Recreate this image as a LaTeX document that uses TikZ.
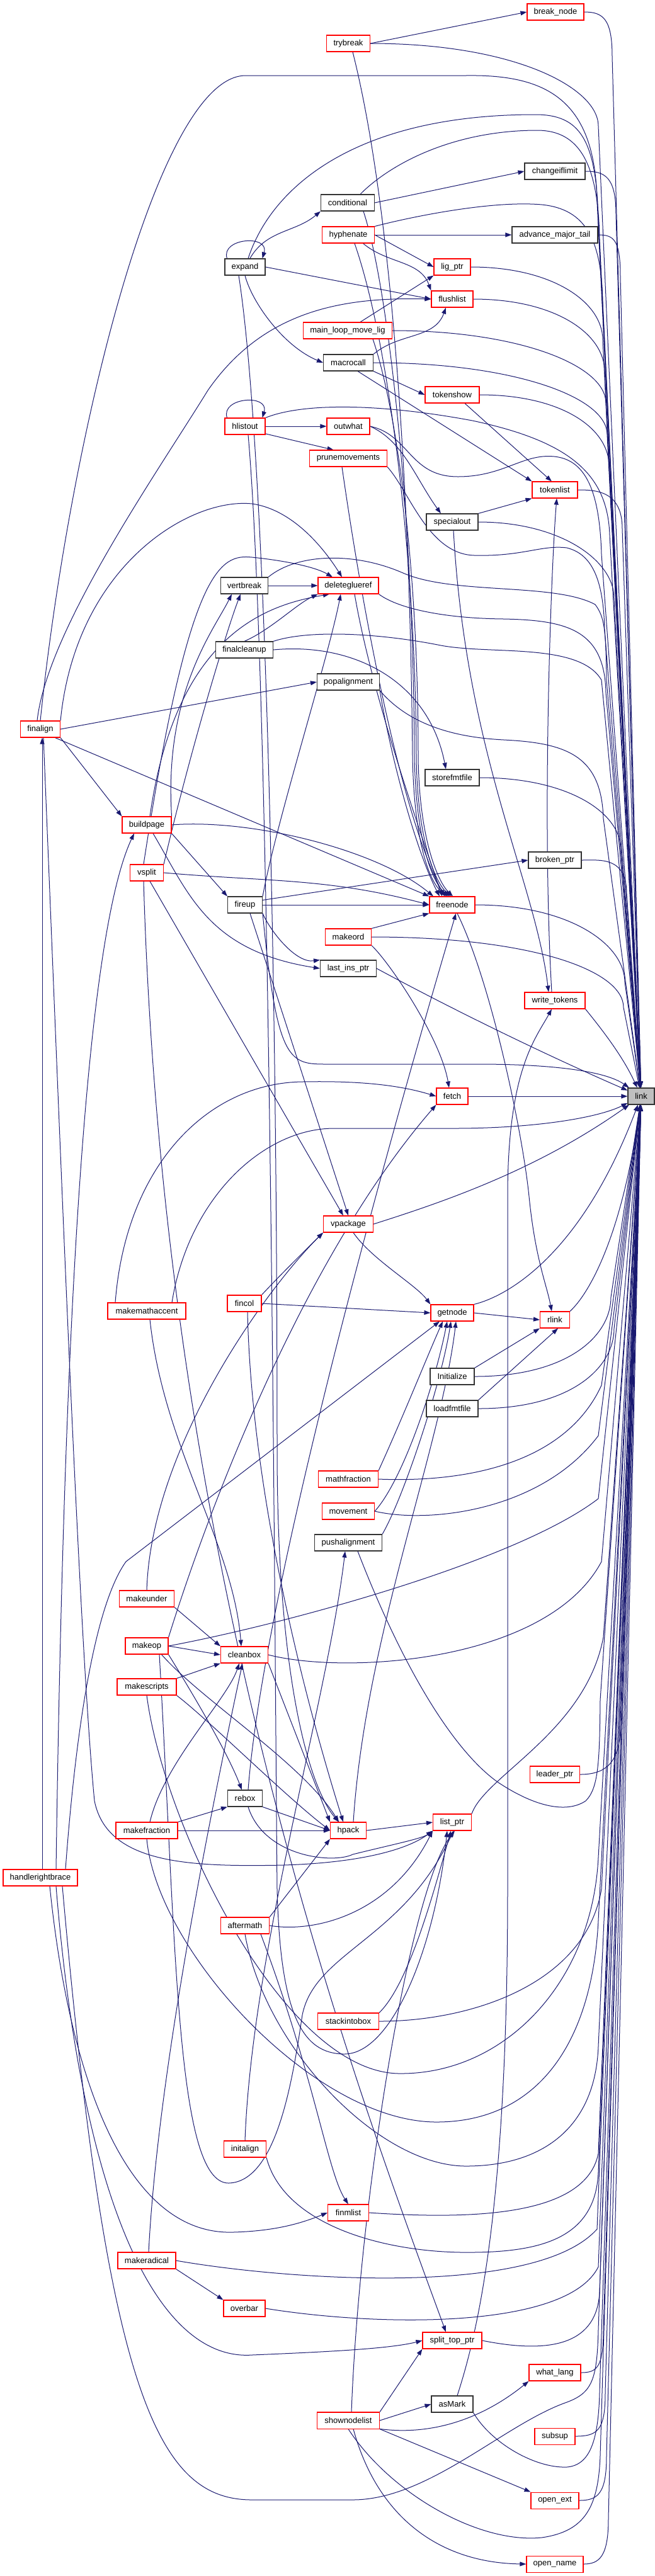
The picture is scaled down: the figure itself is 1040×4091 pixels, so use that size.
\documentclass[tikz,border=0pt]{standalone}
\usepackage{fontspec}
\setmainfont{Liberation Sans}
\usetikzlibrary{arrows.meta,calc}
\definecolor{edgec}{RGB}{25,25,112}
\definecolor{rootfill}{RGB}{191,191,191}
\pgfdeclarelayer{bg}
\pgfsetlayers{bg,main}
\tikzset{
 boxbase/.style={draw, line width=1.1pt, fill=white, minimum height=26pt, inner xsep=3pt, inner ysep=0pt, font=\fontsize{13}{15}\selectfont},
 redbox/.style={boxbase, draw=red},
 blkbox/.style={boxbase, draw=black!80},
 rootbox/.style={boxbase, draw=black!80, fill=rootfill},
 arr/.style={draw=edgec, line width=1pt, -{Triangle[length=10pt,width=7pt]}},
}
\newcommand\La[4]{\draw[arr] (#1.east) .. controls +(#4,0) and +(0,60) .. (#3,-#2) -- (link);}
\newcommand\Lb[4]{\draw[arr] (#1.east) .. controls +(#4,0) and +(0,-60) .. (#3,-#2) -- (link);}
\begin{document}
\begin{tikzpicture}[x=1pt,y=1pt]
\useasboundingbox (0,0) rectangle (1040,-4091);
% nodes
\node[redbox,minimum width=90pt] (bn) at (882,-19) {break\_node};
\node[redbox,minimum width=69pt] (tb) at (553,-69) {trybreak};
\node[blkbox,minimum width=96pt] (cil) at (881,-272) {changeiflimit};
\node[blkbox,minimum width=85pt] (cond) at (552,-322) {conditional};
\node[redbox,minimum width=83pt] (hyph) at (553,-373) {hyphenate};
\node[blkbox,minimum width=136pt] (amt) at (881,-373) {advance\_major\_tail};
\node[blkbox,minimum width=64pt] (exp) at (389,-424) {expand};
\node[redbox,minimum width=58pt] (lig) at (718,-424) {lig\_ptr};
\node[redbox,minimum width=66pt] (fl) at (718,-475) {flushlist};
\node[redbox,minimum width=141pt] (mlml) at (552,-525) {main\_loop\_move\_lig};
\node[blkbox,minimum width=79pt] (mc) at (553,-576) {macrocall};
\node[redbox,minimum width=86pt] (ts) at (718,-627) {tokenshow};
\node[redbox,minimum width=64pt] (hl) at (389,-677) {hlistout};
\node[redbox,minimum width=68pt] (ow) at (553,-677) {outwhat};
\node[redbox,minimum width=123pt] (pm) at (553,-728) {prunemovements};
\node[redbox,minimum width=72pt] (tl) at (881,-778) {tokenlist};
\node[blkbox,minimum width=82pt] (so) at (718,-829) {specialout};
\node[blkbox,minimum width=75pt] (vb) at (388,-930) {vertbreak};
\node[redbox,minimum width=96pt] (dg) at (553,-930) {deleteglueref};
\node[blkbox,minimum width=91pt] (fc) at (388,-1032) {finalcleanup};
\node[blkbox,minimum width=99pt] (pa) at (553,-1083) {popalignment};
\node[redbox,minimum width=63pt] (fa) at (64,-1158) {finalign};
\node[blkbox,minimum width=86pt] (sf) at (718,-1235) {storefmtfile};
\node[redbox,minimum width=78pt] (bp) at (233,-1310) {buildpage};
\node[blkbox,minimum width=84pt] (brp) at (881,-1366) {broken\_ptr};
\node[redbox,minimum width=53pt] (vs) at (233,-1386) {vsplit};
\node[blkbox,minimum width=55pt] (fu) at (389,-1437) {fireup};
\node[redbox,minimum width=72pt] (fn) at (718,-1437) {freenode};
\node[redbox,minimum width=73pt] (mo) at (553,-1488) {makeord};
\node[blkbox,minimum width=89pt] (lip) at (553,-1538) {last\_ins\_ptr};
\node[redbox,minimum width=96pt] (wt) at (881,-1589) {write\_tokens};
\node[redbox,minimum width=50pt] (fe) at (718,-1741) {fetch};
\node[rootbox,minimum width=42pt] (link) at (1018,-1741) {link};
\node[redbox,minimum width=79pt] (vp) at (553,-1944) {vpackage};
\node[redbox,minimum width=54pt] (fcol) at (388,-2070) {fincol};
\node[redbox,minimum width=124pt] (mma) at (233,-2082) {makemathaccent};
\node[redbox,minimum width=68pt] (gn) at (718,-2085) {getnode};
\node[redbox,minimum width=47pt] (rl) at (881,-2096) {rlink};
\node[blkbox,minimum width=70pt] (ini) at (718,-2186) {Initialize};
\node[blkbox,minimum width=82pt] (lf) at (718,-2237) {loadfmtfile};
\node[redbox,minimum width=95pt] (mf) at (553,-2349) {mathfraction};
\node[redbox,minimum width=83pt] (mv) at (553,-2400) {movement};
\node[blkbox,minimum width=107pt] (psa) at (553,-2450) {pushalignment};
\node[redbox,minimum width=87pt] (mu) at (233,-2539) {makeunder};
\node[redbox,minimum width=68pt] (mop) at (233,-2614) {makeop};
\node[redbox,minimum width=75pt] (cb) at (388,-2628) {cleanbox};
\node[redbox,minimum width=94pt] (ms) at (233,-2679) {makescripts};
\node[blkbox,minimum width=55pt] (rb) at (389,-2856) {rebox};
\node[redbox,minimum width=79pt] (lp) at (881,-2818) {leader\_ptr};
\node[redbox,minimum width=61pt] (lsp) at (718,-2894) {list\_ptr};
\node[redbox,minimum width=98pt] (mfr) at (233,-2907) {makefraction};
\node[redbox,minimum width=57pt] (hp) at (553,-2907) {hpack};
\node[redbox,minimum width=118pt] (hrb) at (64,-2982) {handlerightbrace};
\node[redbox,minimum width=77pt] (am) at (389,-3058) {aftermath};
\node[redbox,minimum width=97pt] (sib) at (553,-3210) {stackintobox};
\node[redbox,minimum width=67pt] (ia) at (389,-3413) {initalign};
\node[redbox,minimum width=65pt] (fml) at (553,-3514) {finmlist};
\node[redbox,minimum width=92pt] (mr) at (233,-3590) {makeradical};
\node[redbox,minimum width=66pt] (ob) at (388,-3666) {overbar};
\node[redbox,minimum width=94pt] (stp) at (718,-3717) {split\_top\_ptr};
\node[redbox,minimum width=82pt] (wl) at (881,-3768) {what\_lang};
\node[blkbox,minimum width=66pt] (asm) at (718,-3818) {asMark};
\node[redbox,minimum width=99pt] (snl) at (553,-3844) {shownodelist};
\node[redbox,minimum width=64pt] (ss) at (881,-3869) {subsup};
\node[redbox,minimum width=76pt] (oe) at (881,-3971) {open\_ext};
\node[redbox,minimum width=90pt] (on) at (881,-4072) {open\_name};

\begin{pgfonlayer}{bg}
\fill[white] (0,0) rectangle (1040,-4091);
% ---------- edges into link from above ----------
\La{bn}{90}{972}{30}
\La{tb}{200}{950}{230}
\La{cil}{340}{978}{30}
\draw[arr] ([xshift=20pt]cond.north) .. controls (620,-260) and (720,-207) .. (853,-207) .. controls (920,-207) and (950,-260) .. (952,-380) -- (link);
\draw[arr] (hyph.north east) .. controls (650,-345) and (780,-318) .. (860,-325) .. controls (930,-332) and (955,-380) .. (957,-480) -- (link);
\La{amt}{440}{985}{25}
\draw[arr] ([xshift=5pt]exp.north) .. controls (430,-300) and (560,-182) .. (850,-182) .. controls (920,-182) and (947,-220) .. (950,-350) -- (link);
\draw[arr] (fa.north) .. controls (110,-700) and (250,-120) .. (390,-120) -- (740,-120) .. controls (870,-118) and (945,-160) .. (948,-320) -- (link);
\La{lig}{540}{957}{130}
\La{fl}{590}{960}{130}
\La{mlml}{640}{962}{200}
\La{mc}{690}{964}{220}
\La{ts}{740}{967}{130}
\draw[arr] (hl.north east) .. controls (480,-640) and (600,-640) .. (750,-668) .. controls (900,-700) and (965,-750) .. (968,-850) -- (link);
\draw[arr] (ow.east) .. controls (650,-690) and (650,-757) .. (727,-757) .. controls (800,-757) and (830,-720) .. (880,-725) .. controls (930,-730) and (952,-780) .. (955,-880) -- (link);
\draw[arr] (pm.south east) .. controls (650,-780) and (680,-880) .. (753,-882) .. controls (830,-884) and (860,-865) .. (900,-870) .. controls (940,-880) and (958,-920) .. (960,-1000) -- (link);
\La{tl}{840}{988}{30}
\La{so}{950}{975}{130}
\draw[arr] (vb.north east) .. controls (470,-880) and (560,-875) .. (640,-910) .. controls (720,-945) and (880,-925) .. (945,-960) .. controls (960,-980) and (962,-1000) .. (963,-1080) -- (link);
\draw[arr] (dg.south east) .. controls (630,-965) and (700,-982) .. (800,-983) .. controls (900,-985) and (960,-1000) .. (962,-1100) -- (link);
\draw[arr] (fc.north east) .. controls (490,-1000) and (600,-1005) .. (700,-1025) .. controls (780,-1040) and (920,-1020) .. (955,-1080) -- (link);
\draw[arr] (pa.south east) .. controls (640,-1140) and (700,-1170) .. (800,-1175) .. controls (900,-1180) and (955,-1200) .. (958,-1300) -- (link);
\La{sf}{1350}{986}{140}
\La{brp}{1420}{995}{30}
\La{fn}{1560}{992}{150}
\La{mo}{1600}{990}{250}
\draw[arr] (lip.east) .. controls (750,-1620) and (900,-1690) .. (link);
\draw[arr] (wt.south east) .. controls (960,-1640) and (990,-1680) .. (link);
\draw[arr] (fe) -- (link);
\draw[arr] (fu.south east) .. controls (440,-1690) and (460,-1690) .. (520,-1690) -- (760,-1690) .. controls (870,-1690) and (960,-1700) .. (link);
\draw[arr] ([xshift=40pt]mma.north) .. controls (300,-1900) and (420,-1792) .. (530,-1792) -- (720,-1792) .. controls (850,-1792) and (950,-1775) .. (link);
% ---------- edges into link from below ----------
\draw[arr] (vp.east) .. controls (700,-1910) and (850,-1860) .. (link);
\draw[arr] (gn.north east) .. controls (800,-2060) and (920,-2000) .. (link);
\draw[arr] (rl.north east) .. controls (940,-2050) and (990,-1950) .. (link);
\Lb{ini}{2060}{970}{150}
\Lb{lf}{2110}{975}{150}
\draw[arr] (mf.east) .. controls (750,-2355) and (900,-2320) .. (955,-2200) -- (link);
\draw[arr] (mv.east) .. controls (680,-2420) and (860,-2400) .. (950,-2280) -- (link);
\draw[arr] (mop.east) .. controls (450,-2580) and (820,-2480) .. (950,-2380) -- (link);
\draw[arr] (cb.east) .. controls (550,-2660) and (870,-2640) .. (955,-2480) -- (link);
\draw[arr] ([xshift=15pt]psa.south) .. controls (640,-2650) and (720,-2780) .. (790,-2830) .. controls (850,-2870) and (900,-2880) .. (930,-2860) .. controls (950,-2840) and (952,-2800) .. (953,-2700) -- (link);
\Lb{lp}{2740}{985}{40}
\draw[arr] (lsp.north east) .. controls (770,-2820) and (930,-2750) .. (958,-2600) -- (link);
\draw[arr] (ms.south) .. controls (260,-2900) and (450,-3290) .. (633,-3293) .. controls (800,-3295) and (940,-3150) .. (950,-2950) -- (link);
\draw[arr] (am.south) .. controls (420,-3250) and (600,-3440) .. (740,-3440) .. controls (860,-3440) and (945,-3380) .. (950,-3250) -- (link);
\draw[arr] (sib.east) .. controls (750,-3210) and (930,-3150) .. (955,-3000) -- (link);
\draw[arr] (ia.south east) .. controls (450,-3530) and (600,-3575) .. (733,-3577) .. controls (850,-3578) and (945,-3560) .. (950,-3450) -- (link);
\draw[arr] (fml.east) .. controls (750,-3525) and (930,-3520) .. (950,-3420) -- (link);
\draw[arr] (mr.east) .. controls (450,-3620) and (850,-3650) .. (948,-3540) -- (link);
\draw[arr] (ob.east) .. controls (600,-3695) and (900,-3700) .. (950,-3600) -- (link);
\draw[arr] (stp.east) .. controls (880,-3740) and (948,-3720) .. (952,-3640) -- (link);
\Lb{wl}{3700}{958}{25}
\Lb{ss}{3800}{961}{35}
\Lb{oe}{3900}{963}{30}
\Lb{on}{4000}{966}{25}
\draw[arr] (asm.south east) .. controls (780,-3880) and (850,-3920) .. (900,-3918) .. controls (935,-3915) and (950,-3880) .. (952,-3800) -- (link);
\draw[arr] (snl.south) .. controls (620,-3960) and (760,-4040) .. (860,-4030) .. controls (930,-4020) and (950,-3980) .. (953,-3900) -- (link);
\draw[arr] ([xshift=35pt]hrb.south) .. controls (170,-3800) and (250,-3970) .. (400,-3970) -- (560,-3970) .. controls (680,-3970) and (800,-3850) .. (900,-3815) .. controls (940,-3800) and (948,-3780) .. (950,-3700) -- (link);
\draw[arr] (mfr.south) .. controls (250,-3100) and (500,-3370) .. (693,-3370) .. controls (850,-3370) and (940,-3250) .. (950,-3050) -- (link);
% ---------- other edges ----------
\draw[arr] (tb.east) -- (bn.west);
\draw[arr] (cond.east) -- (cil.west);
\draw[arr] (exp.60) to[out=60,in=220] (cond.south west);
\draw[arr] ([xshift=4pt]exp.north west) .. controls (350,-378) and (428,-372) .. ([xshift=-5pt]exp.north east);
\draw[arr] ([xshift=4pt]hl.north west) .. controls (350,-631) and (428,-625) .. ([xshift=-5pt]hl.north east);
\draw[arr] (hyph.east) -- (amt.west);
\draw[arr] (hyph.east) -- (lig.west);
\draw[arr] (hyph.-30) to[out=-40,in=110] (fl.north west);
\draw[arr] (exp.east) -- (fl.west);
\draw[arr] (exp.south) .. controls (400,-480) and (450,-550) .. (mc.west);
\draw[arr] ([xshift=-10pt]exp.south) .. controls (420,-700) and (440,-1500) .. (440,-2300) .. controls (440,-2700) and (500,-2850) .. ([xshift=-15pt]hp.north);
\draw[arr] ([xshift=20pt]mlml.north) -- (lig.south west);
\draw[arr] (mc.north east) to[out=40,in=-110] ([xshift=-10pt]fl.south);
\draw[arr] (mc.south east) -- (ts.west);
\draw[arr] ([xshift=15pt]mc.south) -- (tl.north west);
\draw[arr] ([xshift=20pt]ts.south) -- ([xshift=-5pt]tl.north);
\draw[arr] (hl.east) -- (ow.west);
\draw[arr] (hl.-20) -- (pm.150);
\draw[arr] ([xshift=5pt]hl.south) .. controls (430,-1100) and (436,-2600) .. (440,-3000) .. controls (445,-3200) and (480,-3262) .. (547,-3262) .. controls (620,-3262) and (690,-3100) .. ([xshift=-8pt]lsp.south);
\draw[arr] (ow.east) .. controls (640,-700) and (660,-760) .. ([xshift=-18pt]so.north);
\draw[arr] (so.north east) -- (tl.south west);
\draw[arr] ([xshift=2pt]so.south) .. controls (740,-1200) and (850,-1400) .. ([xshift=-10pt]wt.north);
\draw[arr] ([xshift=-5pt]wt.north) .. controls (860,-1300) and (875,-900) .. ([xshift=3pt]tl.south);
\draw[arr] ([xshift=8pt]asm.north) .. controls (760,-3700) and (806,-3500) .. (806,-3000) -- (806,-1900) .. controls (806,-1700) and (850,-1650) .. ([xshift=-5pt]wt.south);
\draw[arr] ([xshift=7pt]tb.south) .. controls (615,-300) and (650,-700) .. (655,-1200) .. controls (657,-1330) and (680,-1400) .. ([xshift=-8pt]fn.north);
\draw[arr] ([xshift=25pt]cond.south) .. controls (615,-450) and (656,-800) .. (658,-1200) .. controls (660,-1330) and (685,-1400) .. ([xshift=-5pt]fn.north);
\draw[arr] ([xshift=10pt]hyph.south) .. controls (620,-550) and (660,-900) .. (661,-1200) .. controls (662,-1330) and (690,-1400) .. ([xshift=-2pt]fn.north);
\draw[arr] ([xshift=40pt]mlml.south) .. controls (630,-650) and (664,-900) .. (664,-1200) .. controls (665,-1330) and (695,-1400) .. ([xshift=1pt]fn.north);
\draw[arr] ([xshift=-10pt]pm.south) .. controls (580,-1000) and (640,-1300) .. ([xshift=-12pt]fn.north);
\draw[arr] ([xshift=10pt]dg.south) .. controls (590,-1100) and (660,-1300) .. ([xshift=-16pt]fn.north);
\draw[arr] (pa.south east) .. controls (620,-1200) and (660,-1350) .. ([xshift=-20pt]fn.north);
\draw[arr] (vb.east) -- (dg.west);
\draw[arr] (bp.north east) .. controls (260,-1100) and (340,-1000) .. ([xshift=-20pt]vb.south);
\draw[arr] (vs.north east) .. controls (300,-1200) and (360,-1000) .. ([xshift=-6pt]vb.south);
\draw[arr] (fc.north) .. controls (430,-1000) and (470,-960) .. (dg.south west);
\draw[arr] ([xshift=5pt]bp.north) .. controls (280,-1000) and (430,-960) .. ([xshift=-30pt]dg.south);
\draw[arr] (fu.north east) .. controls (440,-1300) and (520,-1050) .. ([xshift=-12pt]dg.south);
\draw[arr] ([xshift=-5pt]vs.north) .. controls (300,-900) and (350,-880) .. (400,-885) .. controls (450,-890) and (500,-900) .. ([xshift=-25pt]dg.north);
\draw[arr] (fa.north east) .. controls (120,-900) and (300,-790) .. (400,-800) .. controls (470,-810) and (520,-880) .. ([xshift=-10pt]dg.north);
\draw[arr] (fa.east) -- (pa.west);
\draw[arr] (fa.south east) -- (bp.north west);
\draw[arr] (fa.-30) -- (fn.north west);
\draw[arr] ([xshift=-5pt]fa.north) .. controls (75,-1000) and (250,-750) .. (330,-620) .. controls (420,-490) and (550,-472) .. (fl.west);
\draw[arr] (fa.-70) .. controls (95,-1800) and (125,-2600) .. (150,-2860) .. controls (170,-2960) and (300,-2965) .. (450,-2962) .. controls (580,-2958) and (650,-2935) .. (lsp.south west);
\draw[arr] ([xshift=3pt]hrb.north) -- ([xshift=3pt]fa.south);
\draw[arr] (fc.east) .. controls (560,-1020) and (680,-1080) .. ([xshift=-10pt]sf.north);
\draw[arr] (bp.south east) -- (fu.north west);
\draw[arr] ([xshift=10pt]bp.south) .. controls (300,-1420) and (330,-1510) .. (lip.west);
\draw[arr] (bp.east) .. controls (400,-1300) and (600,-1350) .. ([xshift=-30pt]fn.north);
\draw[arr] (vs.east) to[out=-5,in=165] (fn.west);
\draw[arr] ([xshift=5pt]vs.south) -- ([xshift=-8pt]vp.north);
\draw[arr] ([xshift=-5pt]vs.south) .. controls (260,-2500) and (560,-3300) .. ([xshift=-10pt]stp.north);
\draw[arr] (fu.15) -- (brp.west);
\draw[arr] (fu.east) -- (fn.west);
\draw[arr] (fu.south east) .. controls (430,-1480) and (470,-1530) .. (lip.north west);
\draw[arr] ([xshift=8pt]fu.south) -- (vp.north);
\draw[arr] (mo.north east) -- (fn.south west);
\draw[arr] (mo.south east) .. controls (620,-1530) and (700,-1650) .. ([xshift=-5pt]fe.north);
\draw[arr] ([xshift=-50pt]mma.north) .. controls (200,-1850) and (330,-1720) .. (480,-1718) .. controls (580,-1716) and (640,-1725) .. (fe.west);
\draw[arr] (mop.north east) .. controls (330,-2400) and (480,-2000) .. (fe.south west);
\draw[arr] ([xshift=8pt]fn.south) .. controls (780,-1560) and (830,-1800) .. (840,-1900) .. controls (850,-2000) and (868,-2040) .. ([xshift=-5pt]rl.north);
\draw[arr] (fcol.north east) .. controls (440,-2030) and (480,-1990) .. (vp.south west);
\draw[arr] (fcol.east) -- (gn.west);
\draw[arr] ([xshift=5pt]fcol.south) .. controls (400,-2400) and (500,-2750) .. ([xshift=-8pt]hp.north);
\draw[arr] ([xshift=8pt]vp.south) .. controls (590,-2000) and (660,-2040) .. (gn.north west);
\draw[arr] (gn.east) -- (rl.west);
\draw[arr] (ini.north east) -- (rl.south west);
\draw[arr] (lf.north east) -- ([xshift=5pt]rl.south);
\draw[arr] (mf.north east) .. controls (640,-2250) and (680,-2150) .. ([xshift=-15pt]gn.south);
\draw[arr] (mv.east) .. controls (640,-2350) and (690,-2200) .. ([xshift=-8pt]gn.south);
\draw[arr] (psa.north east) .. controls (640,-2380) and (700,-2200) .. ([xshift=-2pt]gn.south);
\draw[arr] ([xshift=8pt]hp.north) .. controls (580,-2600) and (700,-2300) .. ([xshift=6pt]gn.south);
\draw[arr] ([xshift=40pt]hrb.north) .. controls (120,-2750) and (150,-2550) .. (200,-2480) -- ([xshift=-20pt]gn.south);
\draw[arr] ([xshift=5pt]mma.south) .. controls (260,-2300) and (370,-2450) .. ([xshift=-5pt]cb.north);
\draw[arr] (mu.south east) -- (cb.north west);
\draw[arr] (mu.north) .. controls (240,-2300) and (420,-2050) .. (vp.south west);
\draw[arr] (mop.east) -- (cb.west);
\draw[arr] (mop.south east) .. controls (300,-2680) and (360,-2780) .. ([xshift=-5pt]rb.north);
\draw[arr] (mop.-30) .. controls (320,-2700) and (480,-2800) .. ([xshift=-15pt]hp.north);
\draw[arr] ([xshift=20pt]mop.south) .. controls (280,-3100) and (280,-3467) .. (363,-3467) .. controls (440,-3465) and (465,-3300) .. (480,-3200) .. controls (500,-3100) and (640,-3080) .. ([xshift=2pt]lsp.south);
\draw[arr] (ms.north east) -- (cb.south west);
\draw[arr] (ms.south east) .. controls (330,-2730) and (450,-2850) .. (hp.west);
\draw[arr] (cb.south east) -- (hp.north west);
\draw[arr] (rb.south east) -- (hp.west);
\draw[arr] ([xshift=5pt]rb.south) .. controls (420,-2950) and (530,-2960) .. (560,-2945) .. controls (620,-2930) and (670,-2920) .. (lsp.south west);
\draw[arr] ([xshift=5pt]rb.north) .. controls (420,-2500) and (650,-1700) .. ([xshift=6pt]fn.south);
\draw[arr] (mfr.north east) -- (rb.south west);
\draw[arr] (mfr.east) -- (hp.west);
\draw[arr] ([xshift=5pt]mfr.north) .. controls (260,-2800) and (360,-2700) .. ([xshift=-8pt]cb.south);
\draw[arr] (hp.east) -- (lsp.west);
\draw[arr] ([xshift=25pt]hrb.north) .. controls (100,-2200) and (130,-1500) .. ([xshift=-20pt]bp.south);
\draw[arr] ([xshift=15pt]hrb.south) .. controls (110,-3300) and (200,-3550) .. (370,-3545) .. controls (440,-3543) and (480,-3530) .. (fml.west);
\draw[arr] ([xshift=25pt]hrb.south) .. controls (130,-3500) and (250,-3750) .. (400,-3740) .. controls (520,-3735) and (620,-3730) .. (stp.west);
\draw[arr] (am.north east) -- (hp.south west);
\draw[arr] (am.east) .. controls (500,-3070) and (620,-3040) .. (lsp.south west);
\draw[arr] (sib.north east) .. controls (650,-3150) and (690,-3000) .. ([xshift=-2pt]lsp.south);
\draw[arr] (ia.north) .. controls (400,-3100) and (520,-2700) .. ([xshift=-5pt]psa.south);
\draw[arr] ([xshift=25pt]am.south) .. controls (500,-3300) and (520,-3450) .. (fml.north);
\draw[arr] (mr.south east) -- (ob.north west);
\draw[arr] ([xshift=3pt]mr.north) .. controls (250,-3300) and (330,-2900) .. ([xshift=-3pt]cb.south);
\draw[arr] (snl.north east) -- (stp.south west);
\draw[arr] (snl.east) -- (asm.west);
\draw[arr] (snl.-15) .. controls (700,-3870) and (780,-3830) .. (wl.south west);
\draw[arr] (snl.south east) -- (oe.north west);
\draw[arr] ([xshift=8pt]snl.south) .. controls (600,-4000) and (700,-4070) .. (on.west);
\draw[arr] ([xshift=5pt]snl.north) .. controls (570,-3500) and (650,-3000) .. ([xshift=4pt]lsp.south);
\end{pgfonlayer}
\end{tikzpicture}
\end{document}
